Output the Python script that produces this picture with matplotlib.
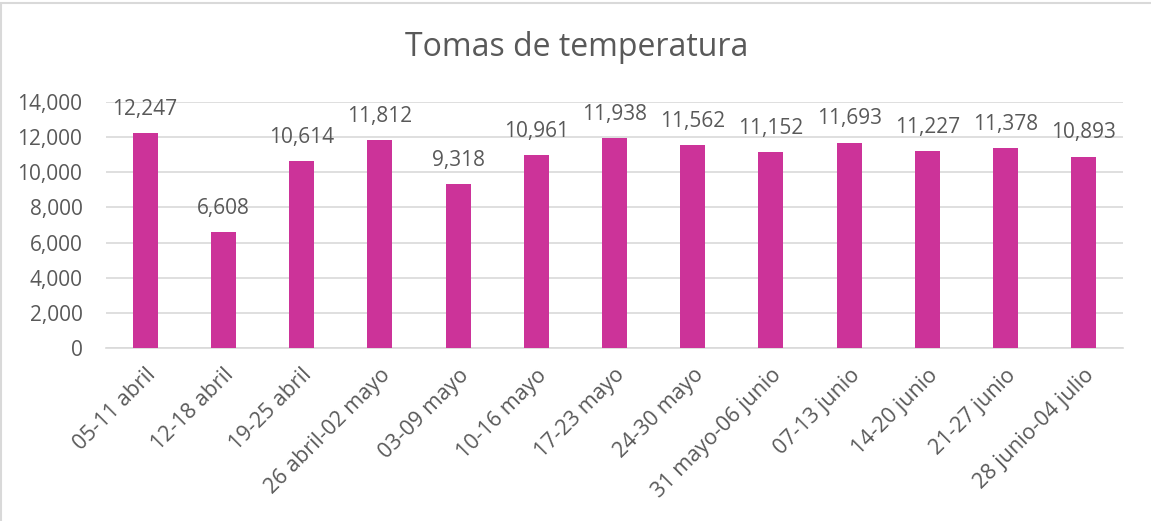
import matplotlib
matplotlib.use("Agg")
import matplotlib.pyplot as plt
from matplotlib.ticker import FuncFormatter, MultipleLocator

categories = ["05-11 abril", "12-18 abril", "19-25 abril", "26 abril-02 mayo",
              "03-09 mayo", "10-16 mayo", "17-23 mayo", "24-30 mayo",
              "31 mayo-06 junio", "07-13 junio", "14-20 junio", "21-27 junio",
              "28 junio-04 julio"]
values = [12247, 6608, 10614, 11812, 9318, 10961, 11938, 11562, 11152,
          11693, 11227, 11378, 10893]

plt.rcParams['font.family'] = ['Open Sans', 'DejaVu Sans']
txt = '#595959'

fig = plt.figure(figsize=(11.51, 5.21), dpi=100)
ax = fig.add_axes([106/1151, 1-348/521, (1123-106)/1151, (348-102)/521])

x = range(len(categories))
ax.bar(x, values, width=0.32, color='#CC3399', zorder=3)
for i, v in zip(x, values):
    ax.text(i, v + 750, f"{v:,}", ha='center', va='bottom', fontsize=15, color=txt)

ax.set_ylim(0, 14000)
ax.set_xlim(-0.5, len(categories) - 0.5)
ax.yaxis.set_major_locator(MultipleLocator(2000))
ax.yaxis.set_major_formatter(FuncFormatter(lambda v, p: f"{int(v):,}"))
ax.grid(axis='y', color='#D9D9D9', linewidth=1.2, zorder=0)
for s in ['top', 'right', 'left']:
    ax.spines[s].set_visible(False)
ax.spines['bottom'].set_color('#D9D9D9')
ax.spines['bottom'].set_linewidth(1.2)
ax.tick_params(axis='both', length=0, labelsize=15, colors=txt)
ax.tick_params(axis='y', pad=17)
ax.tick_params(axis='x', pad=12, labelsize=15.5)
ax.set_xticks(list(x))
ax.set_xticklabels(categories, rotation=45, ha='right', rotation_mode='anchor')

fig.text(577/1151, 1-47/521, "Tomas de temperatura", ha='center', va='center',
         fontsize=23, color=txt)

border = plt.Rectangle((1/1151, -0.1), 1.2, 1 - 3/521 + 0.1, transform=fig.transFigure,
                       fill=False, edgecolor='#D9D9D9', linewidth=1.5)
fig.patches.append(border)

fig.savefig("out.png", dpi=100)
